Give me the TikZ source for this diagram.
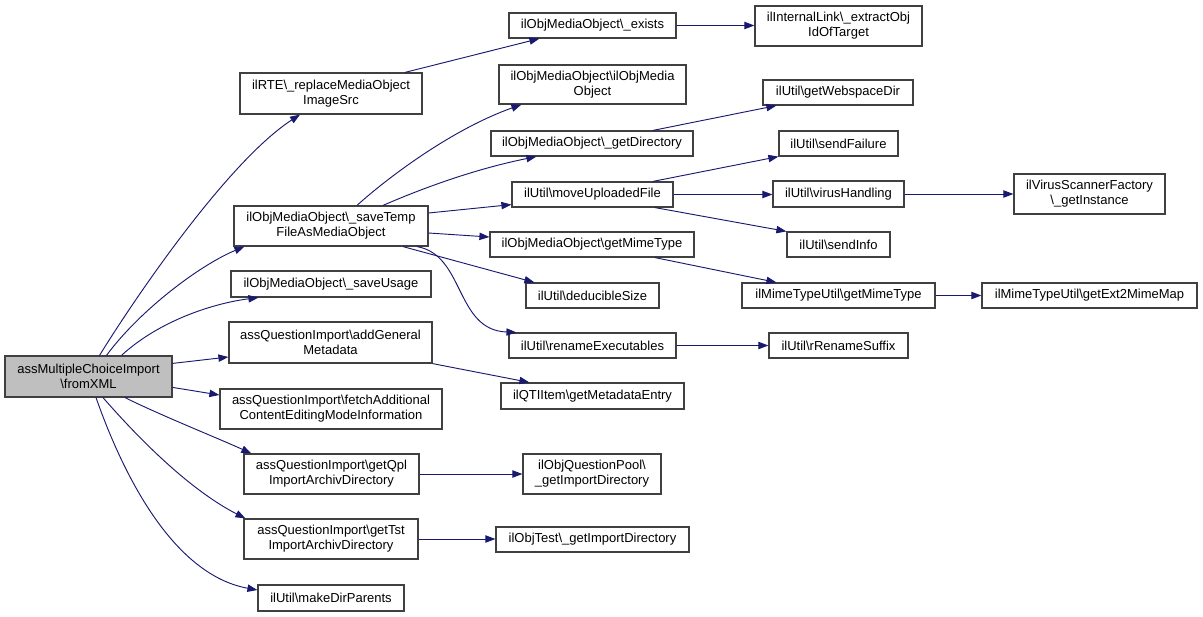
\documentclass[tikz,border=0pt]{standalone}
\usepackage{fontspec}
\setmainfont{Liberation Sans}
\usetikzlibrary{arrows.meta,calc}
\definecolor{edgeblue}{HTML}{191970}
\definecolor{boxgray}{HTML}{404040}
\definecolor{rootfill}{HTML}{BFBFBF}
\tikzset{
  nbox/.style 2 args={draw=boxgray, line width=0.9pt, fill=white, inner sep=0pt, align=center,
    minimum width=#1*0.75pt, minimum height=#2*0.75pt,
    font=\fontsize{9.75}{11.3}\selectfont},
  conn/.style={draw=edgeblue, line width=0.7pt, -{Triangle[length=7.5pt,width=5.5pt]}, color=edgeblue}
}
\begin{document}
\begin{tikzpicture}[x=0.75pt,y=-0.75pt]
\useasboundingbox (0,0) rectangle (1203,617);
% nodes
\node[nbox={167}{41}, fill=rootfill] (root) at (88.5,376.5) {assMultipleChoiceImport\\\textbackslash fromXML};
\node[nbox={182}{41}] (rte) at (331,93.5) {ilRTE\textbackslash\_replaceMediaObject\\ImageSrc};
\node[nbox={194}{40}] (save) at (331,226) {ilObjMediaObject\textbackslash\_saveTemp\\FileAsMediaObject};
\node[nbox={200}{26}] (usage) at (331,284) {ilObjMediaObject\textbackslash\_saveUsage};
\node[nbox={203}{41}] (addgen) at (330.5,342.5) {assQuestionImport\textbackslash addGeneral\\Metadata};
\node[nbox={222}{40}] (fetch) at (331,409) {assQuestionImport\textbackslash fetchAdditional\\ContentEditingModeInformation};
\node[nbox={175}{40}] (qpl) at (331.5,474) {assQuestionImport\textbackslash getQpl\\ImportArchivDirectory};
\node[nbox={174}{40}] (tst) at (331,539) {assQuestionImport\textbackslash getTst\\ImportArchivDirectory};
\node[nbox={146}{26}] (mkdir) at (331,598) {ilUtil\textbackslash makeDirParents};
\node[nbox={167}{25}] (exists) at (592.5,25.5) {ilObjMediaObject\textbackslash\_exists};
\node[nbox={187}{39}] (ctor) at (592.5,84.5) {ilObjMediaObject\textbackslash ilObjMedia\\Object};
\node[nbox={202}{25}] (getdir) at (592,143.5) {ilObjMediaObject\textbackslash\_getDirectory};
\node[nbox={161}{25}] (move) at (592.5,194.5) {ilUtil\textbackslash moveUploadedFile};
\node[nbox={204}{25}] (omime) at (592,244.5) {ilObjMediaObject\textbackslash getMimeType};
\node[nbox={133}{25}] (deduc) at (592.5,295.5) {ilUtil\textbackslash deducibleSize};
\node[nbox={167}{25}] (rename) at (592.5,345.5) {ilUtil\textbackslash renameExecutables};
\node[nbox={183}{26}] (meta) at (592.5,396) {ilQTIItem\textbackslash getMetadataEntry};
\node[nbox={138}{40}] (qpool) at (592,474) {ilObjQuestionPool\textbackslash\\\_getImportDirectory};
\node[nbox={193}{25}] (otest) at (592.5,539.5) {ilObjTest\textbackslash\_getImportDirectory};
\node[nbox={167}{40}] (link) at (838.5,26) {ilInternalLink\textbackslash\_extractObj\\IdOfTarget};
\node[nbox={150}{25}] (web) at (838,92.5) {ilUtil\textbackslash getWebspaceDir};
\node[nbox={119}{25}] (fail) at (838.5,143.5) {ilUtil\textbackslash sendFailure};
\node[nbox={131}{26}] (virus) at (838.5,194) {ilUtil\textbackslash virusHandling};
\node[nbox={103}{25}] (sinfo) at (838.5,244.5) {ilUtil\textbackslash sendInfo};
\node[nbox={193}{25}] (mtu) at (838.5,295.5) {ilMimeTypeUtil\textbackslash getMimeType};
\node[nbox={139}{25}] (rsuf) at (838.5,345.5) {ilUtil\textbackslash rRenameSuffix};
\node[nbox={151}{40}] (vsf) at (1089.5,194) {ilVirusScannerFactory\\\textbackslash\_getInstance};
\node[nbox={215}{25}] (ext2) at (1089.5,295.5) {ilMimeTypeUtil\textbackslash getExt2MimeMap};
% edges from root
\draw[conn] ($(root.north)+(11,0)$) .. controls (140,290) and (230,160) .. ($(rte.south)+(-31,0)$);
\draw[conn] ($(root.north)+(18,0)$) .. controls (140,310) and (200,265) .. ($(save.south west)+(11,0)$);
\draw[conn] ($(root.north)+(33,0)$) .. controls (160,320) and (215,303) .. ($(usage.south west)+(28,0)$);
\draw[conn] ($(root.north east)+(0,8)$) -- ($(addgen.west)+(0,14.5)$);
\draw[conn] ($(root.north east)+(0,32)$) -- ($(fetch.west)+(0,-14)$);
\draw[conn] ($(root.south)+(36.5,0)$) .. controls (160,415) and (215,437) .. ($(qpl.north west)+(8,0)$);
\draw[conn] ($(root.south)+(14.5,0)$) .. controls (140,440) and (190,490) .. ($(tst.north west)+(2,0)$);
\draw[conn] ($(root.south)+(7.5,0)$) .. controls (125,480) and (175,575) .. ($(mkdir.west)+(0,-8)$);
% edges from saveTemp
\draw[conn] ($(save.north)+(26,0)$) .. controls (385,180) and (450,130) .. ($(ctor.south west)+(23,0)$);
\draw[conn] ($(save.north)+(52,0)$) .. controls (430,185) and (480,168) .. ($(getdir.south west)+(46,0)$);
\draw[conn] ($(save.east)+(0,-13)$) -- ($(move.south west)+(0,-3)$);
\draw[conn] ($(save.east)+(0,7)$) -- ($(omime.west)+(0,-7.5)$);
\draw[conn] ($(save.south)+(72,0)$) -- ($(deduc.north west)+(9,0)$);
\draw[conn] ($(save.south)+(86,0)$) .. controls (465,255) and (455,330) .. ($(rename.north west)+(8,0)$);
% others
\draw[conn] ($(rte.north)+(74,0)$) -- ($(exists.south west)+(31,0)$);
\draw[conn] (exists.east) -- (exists.east -| link.west);
\draw[conn] ($(getdir.north)+(61,0)$) -- ($(web.south west)+(14,0)$);
\draw[conn] ($(move.north)+(60.5,0)$) -- (fail.south west);
\draw[conn] (move.east) -- (move.east -| virus.west);
\draw[conn] ($(move.south)+(62.5,0)$) -- ($(sinfo.north west)+(0,0)$);
\draw[conn] (virus.east) -- (vsf.west);
\draw[conn] ($(omime.south)+(63,0)$) -- ($(mtu.north west)+(35,0)$);
\draw[conn] (mtu.east) -- (ext2.west);
\draw[conn] (rename.east) -- (rsuf.west);
\draw[conn] (addgen.south east) -- ($(meta.north west)+(29,0)$);
\draw[conn] (qpl.east) -- (qpool.west);
\draw[conn] (tst.east) -- (tst.east -| otest.west);
\end{tikzpicture}
\end{document}
